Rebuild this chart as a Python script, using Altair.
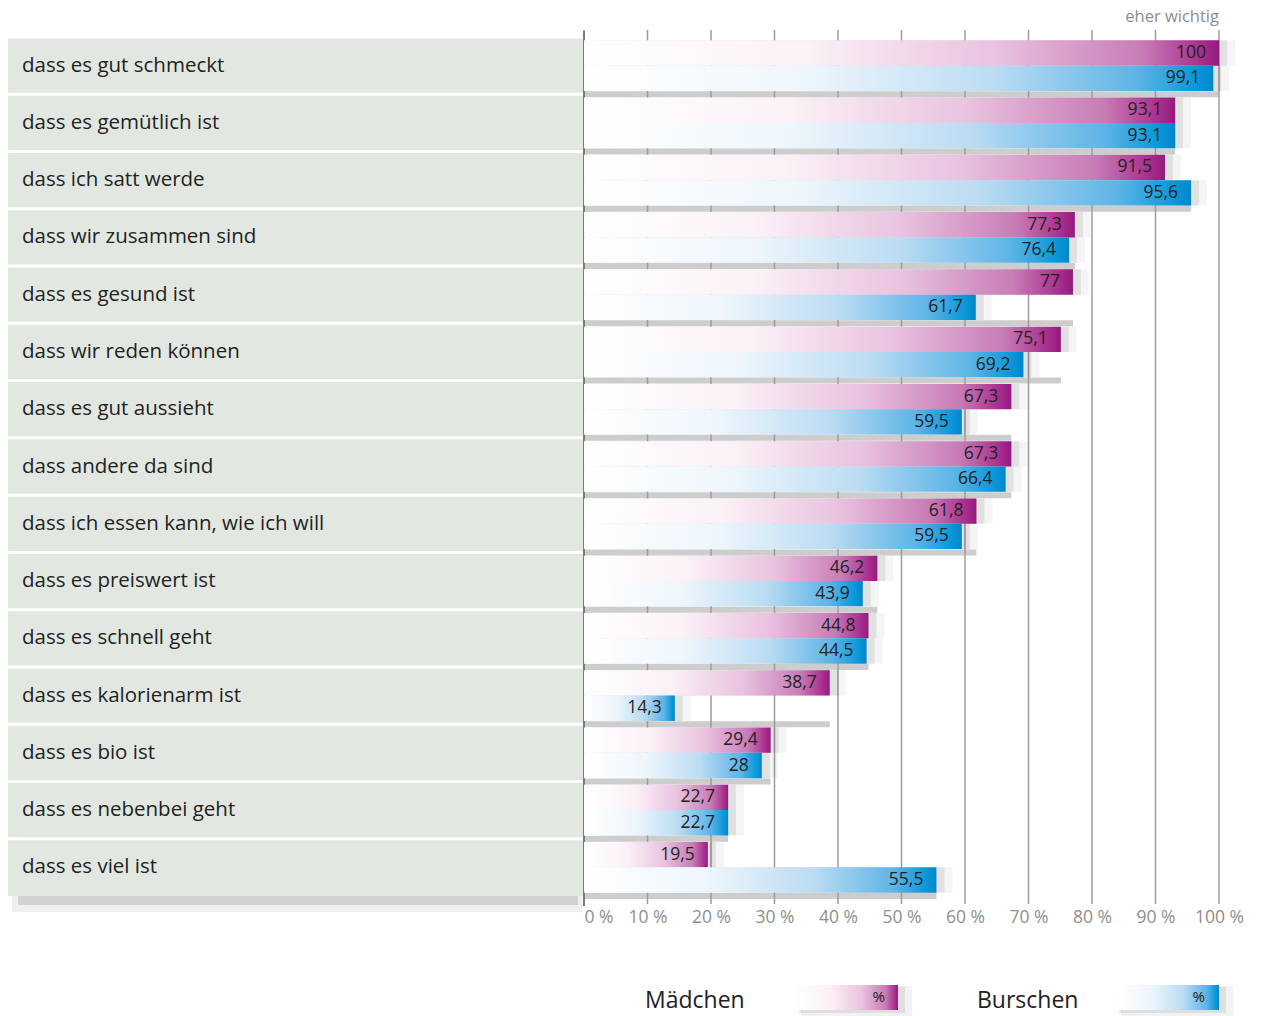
import altair as alt
import pandas as pd

categories = [
    "dass es gut schmeckt", "dass es gemütlich ist", "dass ich satt werde",
    "dass wir zusammen sind", "dass es gesund ist", "dass wir reden können",
    "dass es gut aussieht", "dass andere da sind", "dass ich essen kann, wie ich will",
    "dass es preiswert ist", "dass es schnell geht", "dass es kalorienarm ist",
    "dass es bio ist", "dass es nebenbei geht", "dass es viel ist",
]
maedchen = [100, 93.1, 91.5, 77.3, 77, 75.1, 67.3, 67.3, 61.8, 46.2, 44.8, 38.7, 29.4, 22.7, 19.5]
burschen = [99.1, 93.1, 95.6, 76.4, 61.7, 69.2, 59.5, 66.4, 59.5, 43.9, 44.5, 14.3, 28, 22.7, 55.5]
series = ["Mädchen", "Burschen"]
ticks = [0, 10, 20, 30, 40, 50, 60, 70, 80, 90, 100]

rows = []
for c, m, b in zip(categories, maedchen, burschen):
    rows.append({"cat": c, "series": "Mädchen", "value": m})
    rows.append({"cat": c, "series": "Burschen", "value": b})
df = pd.DataFrame(rows)
df["label"] = df["value"].map(lambda v: (f"{v:g}").replace(".", ","))

rowdf = pd.DataFrame({"cat": categories, "m": maedchen, "b": burschen})
rowdf["rowmax"] = rowdf[["m", "b"]].max(axis=1)
rowdf["zero"] = 0

tickdf = pd.DataFrame({"t": ticks})
one = pd.DataFrame({"a": [0]})

FONT = "Open Sans"
W, H = 635, 859
TOP = 37

xaxis = alt.Axis(
    values=ticks, grid=False, ticks=False, domain=False,
    labelExpr="datum.value + ' %'", labelFontSize=17.5, labelColor="#8f8f8f",
    labelFont=FONT, labelPadding=12,
    labelAlign={"condition": {"test": "datum.value == 0", "value": "left"}, "value": "center"},
    title=None,
)
xscale = alt.Scale(domain=[0, 100], nice=False, zero=True)
yscale = alt.Scale(domain=categories, paddingInner=0, paddingOuter=0)
yenc = alt.Y("cat:N", sort=categories, scale=yscale, axis=None)
yoff = alt.YOffset("series:N", sort=series,
                   scale=alt.Scale(domain=series, paddingInner=0, paddingOuter=0.13))


def grad(stops):
    return alt.Gradient(
        gradient="linear", x1=0, x2=1, y1=0, y2=0,
        stops=[alt.GradientStop(color=c, offset=o) for o, c in stops],
    )


pink = grad([(0, "#ffffff"), (0.35, "#fbf1f7"), (0.65, "#e9c2df"), (0.88, "#c77cb6"),
             (0.97, "#a9308f"), (1, "#941a7d")])
blue = grad([(0, "#ffffff"), (0.35, "#eef6fc"), (0.65, "#bcdcf3"), (0.88, "#5db4e6"),
             (0.97, "#0c98da"), (1, "#0086cb")])

# left label panel
last_row = alt.Chart(rowdf).transform_filter(alt.datum.cat == categories[-1])
panel_shadow1 = last_row.mark_rect(color="#000000", opacity=0.06).encode(
    y=alt.Y("cat:N", sort=categories, scale=yscale, axis=None, bandPosition=1),
    y2=alt.value(H + 16), x=alt.value(-572), x2=alt.value(-2)
)
panel_shadow2 = last_row.mark_rect(color="#000000", opacity=0.12).encode(
    y=alt.Y("cat:N", sort=categories, scale=yscale, axis=None, bandPosition=1),
    y2=alt.value(H + 9), x=alt.value(-566), x2=alt.value(-6)
)
panel = alt.Chart(rowdf).mark_rect(color="#e2e8e1").encode(
    y=yenc, x=alt.value(-576), x2=alt.value(0)
)
panel_sep = alt.Chart(rowdf).mark_rule(color="#ffffff", strokeWidth=3).encode(
    y=alt.Y("cat:N", sort=categories, bandPosition=0, scale=yscale, axis=None),
    x=alt.value(-576), x2=alt.value(0)
)
panel_text = alt.Chart(rowdf).mark_text(
    align="left", baseline="middle", font=FONT, fontSize=20.5, color="#222222"
).encode(y=yenc, x=alt.value(-562), text="cat:N")

# strips below each row
strips = alt.Chart(rowdf).mark_rule(color="#cdcdcd", strokeWidth=6).encode(
    y=alt.Y("cat:N", sort=categories, bandPosition=1, scale=yscale, axis=None),
    x=alt.X("zero:Q", scale=xscale, axis=xaxis),
    x2="rowmax:Q",
)

# gridlines
grid = alt.Chart(tickdf).mark_rule(color="#9c9c9c", strokeWidth=1.5).encode(
    x=alt.X("t:Q", scale=xscale, axis=xaxis), y=alt.value(-7), y2=alt.value(H + 8)
)
vline = alt.Chart(one).mark_rule(color="#7a7a7a", strokeWidth=2).encode(
    x=alt.X("a:Q", scale=xscale, axis=xaxis), y=alt.value(-6), y2=alt.value(H + 10)
)

shadow1 = alt.Chart(df).mark_bar(color="#000000", opacity=0.04, xOffset=16).encode(
    x=alt.X("value:Q", scale=xscale, axis=xaxis), y=yenc, yOffset=yoff
)
shadow2 = alt.Chart(df).mark_bar(color="#000000", opacity=0.08, xOffset=8).encode(
    x=alt.X("value:Q", scale=xscale, axis=xaxis), y=yenc, yOffset=yoff
)

bars_m = alt.Chart(df).transform_filter(alt.datum.series == "Mädchen").mark_bar(
    color=pink).encode(x=alt.X("value:Q", scale=xscale, axis=xaxis), y=yenc, yOffset=yoff)
bars_b = alt.Chart(df).transform_filter(alt.datum.series == "Burschen").mark_bar(
    color=blue).encode(x=alt.X("value:Q", scale=xscale, axis=xaxis), y=yenc, yOffset=yoff)

labels = alt.Chart(df).mark_text(
    align="right", baseline="middle", dx=-13, font=FONT, fontSize=17.5, color="#222222"
).encode(x=alt.X("value:Q", scale=xscale, axis=xaxis), y=yenc, yOffset=yoff, text="label:N")

top_title = alt.Chart(one).mark_text(
    text="eher wichtig", align="right", baseline="middle", font=FONT, fontSize=16.5,
    color="#8c8c8c"
).encode(x=alt.value(W), y=alt.value(-20))

# legend (absolute y 985-1010 for boxes, text centre ~1001)
LY = 1001 - TOP
leg = []
for name, tx, bx0, bx1, px, g in [("Mädchen", 61, 211, 314, 301, pink),
                                  ("Burschen", 393, 531, 635, 621, blue)]:
    leg.append(alt.Chart(one).mark_text(
        text=name, align="left", baseline="middle", font=FONT, fontSize=23, color="#222222"
    ).encode(x=alt.value(tx), y=alt.value(LY)))
    leg.append(alt.Chart(one).mark_rect(color="#000000", opacity=0.05).encode(
        x=alt.value(bx0 + 6), x2=alt.value(bx1 + 14), y=alt.value(LY - 15), y2=alt.value(LY + 15)))
    leg.append(alt.Chart(one).mark_rect(color="#000000", opacity=0.08).encode(
        x=alt.value(bx0 + 4), x2=alt.value(bx1 + 7), y=alt.value(LY - 14), y2=alt.value(LY + 12)))
    leg.append(alt.Chart(one).mark_rect(color=g).encode(
        x=alt.value(bx0), x2=alt.value(bx1), y=alt.value(LY - 16), y2=alt.value(LY + 9)))
    leg.append(alt.Chart(one).mark_text(
        text="%", align="right", baseline="middle", font=FONT, fontSize=15, color="#222222"
    ).encode(x=alt.value(px), y=alt.value(LY - 4)))

chart = alt.layer(
    panel_shadow1, panel_shadow2, panel, panel_sep, panel_text,
    strips, grid, vline, shadow1, shadow2, bars_m, bars_b, labels, top_title,
    *leg,
).properties(
    width=W, height=H,
    padding={"left": 584, "top": TOP, "right": 46, "bottom": 1016 - TOP - H},
    autosize=alt.AutoSizeParams(type="none"),
).configure_view(stroke=None)

chart.save("out.html", embed_options={"renderer": "svg", "actions": False})
